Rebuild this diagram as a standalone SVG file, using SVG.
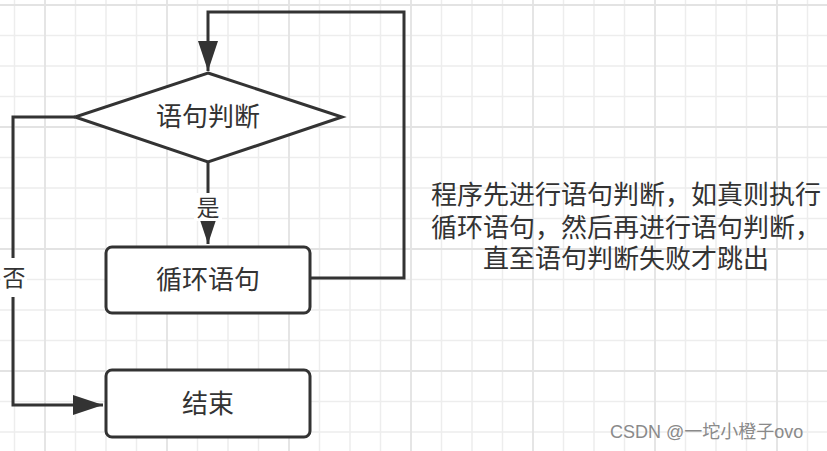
<svg xmlns="http://www.w3.org/2000/svg" width="827" height="451" viewBox="0 0 827 451">
  <style>
    .minor { stroke: #ededed; stroke-width: 1.5; fill: none; }
    .major { stroke: #e3e3e3; stroke-width: 1.8; fill: none; }
    .shape { fill: #ffffff; stroke: #333333; stroke-width: 3; }
    .edge { fill: none; stroke: #333333; stroke-width: 3; }
    .lbl { font-family: "Noto Sans CJK SC", "Liberation Sans", sans-serif; font-size: 26px; fill: #333333; text-anchor: middle; }
    .note { font-family: "Liberation Sans", "Noto Sans CJK SC", sans-serif; font-size: 26px; fill: #333333; text-anchor: middle; }
    .wm { font-family: "Liberation Sans", "Noto Sans CJK SC", sans-serif; font-size: 18px; fill: #8a8a8a; }
  </style>
  <defs>
    <marker id="arrow" markerUnits="userSpaceOnUse" viewBox="0 0 30 20" markerWidth="30" markerHeight="20" refX="30" refY="10" orient="auto">
      <path d="M0,0 L30,10 L0,20 z" fill="#333333"/>
    </marker>
  </defs>
  <rect x="0" y="0" width="827" height="451" fill="#ffffff"/>
  <g id="grid">
    <path class="minor" d="M14.5 0V451M75.5 0V451M106 0V451M136.5 0V451M197.5 0V451M228 0V451M258.5 0V451M319.5 0V451M350 0V451M380.5 0V451M441.5 0V451M472 0V451M502.5 0V451M563.5 0V451M594 0V451M624.5 0V451M685.5 0V451M716 0V451M746.5 0V451M807.5 0V451M0 35.5H827M0 66H827M0 96.5H827M0 157.5H827M0 188H827M0 218.5H827M0 279.5H827M0 310H827M0 340.5H827M0 401.5H827M0 432H827"/>
    <path class="major" d="M45 0V451M167 0V451M289 0V451M411 0V451M533 0V451M655 0V451M777 0V451M0 5H827M0 127H827M0 249H827M0 371H827"/>
  </g>
  <g id="connectors">
    <path class="edge" d="M310 278H404V12H208V71" marker-end="url(#arrow)"/>
    <path class="edge" d="M208 162V244" marker-end="url(#arrow)"/>
    <rect x="194" y="193" width="28" height="28" fill="#ffffff"/>
    <text class="lbl" x="208" y="216" style="font-size:23px">是</text>
    <path class="edge" d="M75 117H13V405H103" marker-end="url(#arrow)"/>
    <rect x="1" y="258" width="26" height="39" fill="#ffffff"/>
    <text class="lbl" x="14" y="286" style="font-size:23px">否</text>
  </g>
  <g id="decision">
    <polygon class="shape" points="208,73 342,117 208,162 75,117"/>
    <text class="lbl" x="208" y="126">语句判断</text>
  </g>
  <g id="loop-body">
    <rect class="shape" x="106" y="247" width="204" height="66" rx="6"/>
    <text class="lbl" x="208" y="289">循环语句</text>
  </g>
  <g id="end">
    <rect class="shape" x="106" y="370" width="204" height="67" rx="6"/>
    <text class="lbl" x="208" y="413">结束</text>
  </g>
  <g id="note">
    <text class="note" x="626" y="204">程序先进行语句判断，如真则执行</text>
    <text class="note" x="626" y="237">循环语句，然后再进行语句判断，</text>
    <text class="note" x="626" y="268">直至语句判断失败才跳出</text>
  </g>
  <text class="wm" x="610" y="438">CSDN @一坨小橙子ovo</text>
</svg>
